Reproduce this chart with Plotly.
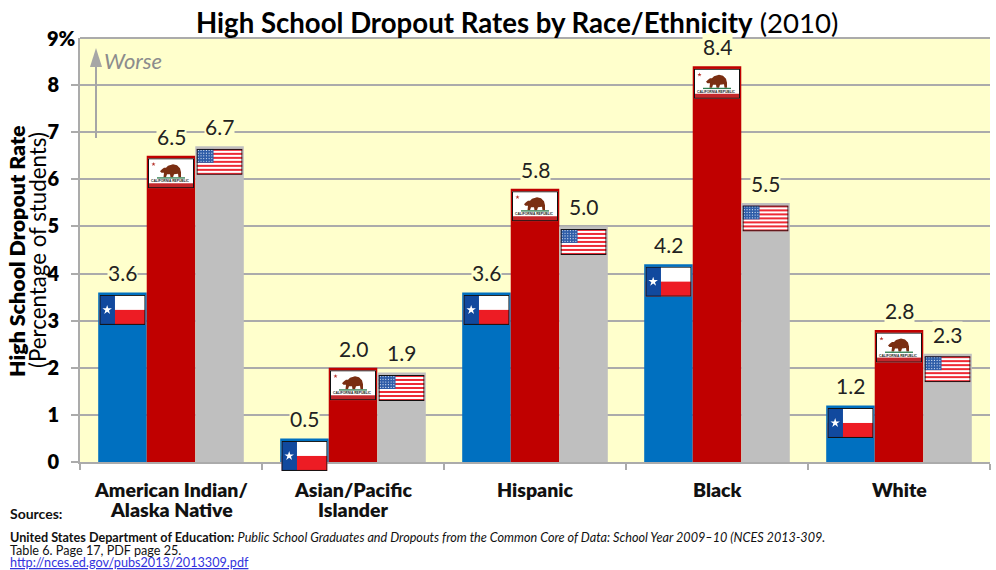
import base64
import plotly.graph_objects as go

categories = ['American Indian/ Alaska Native', 'Asian/Pacific Islander', 'Hispanic', 'Black', 'White']
category_lines = [['American Indian/', 'Alaska Native'], ['Asian/Pacific', 'Islander'], ['Hispanic'], ['Black'], ['White']]
texas = [3.6, 0.5, 3.6, 4.2, 1.2]
california = [6.5, 2.0, 5.8, 8.4, 2.8]
usa = [6.7, 1.9, 5.0, 5.5, 2.3]
y_ticks = [0, 1, 2, 3, 4, 5, 6, 7, 8]

FONT = 'Lato, Carlito, sans-serif'
YELLOW = '#FFFFCC'
GRID = '#ABABAB'
ARROW = '#A6A6A6'
W = 996
H = 570
LEFT, RIGHT, TOP, BOTTOM = 80, 6, 38, 108


def svg_uri(body, h):
    svg = (f'<svg xmlns="http://www.w3.org/2000/svg" width="184" height="{h * 4}" viewBox="0 0 46 {h}" '
           'preserveAspectRatio="none">' + body +
           f'<rect x="0.5" y="0.5" width="45" height="{h - 1}" fill="none" stroke="#111" stroke-width="1"/></svg>')
    return 'data:image/svg+xml;base64,' + base64.b64encode(svg.encode()).decode()


def star(cx, cy, r, color):
    pts = []
    for dx, dy in [(0, -1), (.22, -.31), (.95, -.31), (.36, .12), (.59, .81), (0, .38),
                   (-.59, .81), (-.36, .12), (-.95, -.31), (-.22, -.31)]:
        pts.append(f'{cx + dx * r:.2f},{cy + dy * r:.2f}')
    return f'<polygon points="{" ".join(pts)}" fill="{color}"/>'


def texas_flag():
    return ('<rect width="46" height="30" fill="#fff"/>'
            '<rect y="15" width="46" height="15" fill="#ED1C24"/>'
            '<rect width="15.5" height="30" fill="#11499E"/>' + star(7.7, 15, 5, '#fff'))


def california_flag():
    bear = ('<path d="M12 13 L14 11 L16 9.5 L18 9.5 L20 7.5 L25 6 L29 7 L32 10 L33 14 L33 19 L30.5 19 L30 15.5 '
            'L26 16 L25 19 L22.5 19 L22 16 L19 16 L18 19 L15.5 19 L16 14.5 L13.5 14.5 Z" fill="#7A2E12"/>')
    return ('<rect width="46" height="30" fill="#fff"/>'
            '<rect y="25" width="46" height="5" fill="#C3272B"/>' +
            star(5.5, 6, 2.2, '#B5322A') + bear +
            '<rect x="9" y="19" width="28" height="1.3" fill="#2E7D4F"/>'
            '<text x="22" y="24" font-size="3.3" font-weight="bold" text-anchor="middle" '
            'font-family="Liberation Sans" fill="#222">CALIFORNIA REPUBLIC</text>')


def usa_flag():
    parts = ['<rect width="46" height="26" fill="#fff"/>']
    stripe = 26 / 13
    for i in range(0, 13, 2):
        parts.append(f'<rect y="{i * stripe:.2f}" width="46" height="{stripe:.2f}" fill="#EE2A35"/>')
    parts.append('<rect width="17" height="14" fill="#2F5DA8"/>')
    for row in range(5):
        for col in range(6):
            parts.append(f'<circle cx="{1.8 + col * 2.7:.1f}" cy="{1.6 + row * 2.7:.1f}" r="0.6" fill="#DCE6F5"/>')
    return ''.join(parts)


flags = [(texas, '#0070C0', 'Texas', texas_flag(), 30),
         (california, '#C00000', 'California', california_flag(), 30),
         (usa, '#BFBFBF', 'United States', usa_flag(), 26)]

fig = go.Figure()
for values, color, name, _, _ in flags:
    fig.add_trace(go.Bar(x=categories, y=values, name=name, marker=dict(color=color, line=dict(width=0))))

plot_w = W - LEFT - RIGHT
plot_h = H - TOP - BOTTOM
bar_w = 0.8 / 3
images = []
annotations = []
for s, (values, color, name, flag, flag_h) in enumerate(flags):
    uri = svg_uri(flag, flag_h)
    offset = (s - 1) * bar_w
    for i, v in enumerate(values):
        # paper refs so the flag of a short bar can hang below the axis
        images.append(dict(source=uri, xref='paper', yref='paper', x=(i + offset + 0.5) / 5,
                           y=(v - 2.5 / plot_h * 9) / 9, sizex=46 / plot_w, sizey=flag_h / plot_h,
                           xanchor='center', yanchor='top', sizing='stretch', layer='above'))
        annotations.append(dict(x=i + offset, y=v, xref='x', yref='y', text=f'{v:.1f}', showarrow=False,
                                yanchor='bottom', yshift=6, bgcolor=YELLOW, borderpad=0,
                                font=dict(family=FONT, size=21, color='#222')))

# category labels are annotations because tick labels can't take the tighter line spacing
for i, lines in enumerate(category_lines):
    for n, line in enumerate(lines):
        annotations.append(dict(x=i, y=0, xref='x', yref='paper', text=line, showarrow=False,
                                yanchor='middle', yshift=-27 - n * 20,
                                font=dict(family=FONT, size=19.5, color='#111', weight=800)))


def paper(text, px, py, xanchor='left', yanchor='middle', **kw):
    annotations.append(dict(text=text, xref='paper', yref='paper', showarrow=False,
                            x=(px - LEFT) / plot_w, y=(H - BOTTOM - py) / plot_h,
                            xanchor=xanchor, yanchor=yanchor, align='left', **kw))


def px_x(px):
    return (px - LEFT) / plot_w


def px_y(py):
    return (H - BOTTOM - py) / plot_h


paper('<b>High School Dropout Rates by Race/Ethnicity</b> (2010)', 517, 22, xanchor='center',
      font=dict(family=FONT, size=27.6, color='#000'))
paper('9%', 78, 38, xanchor='right', font=dict(family=FONT, size=20, color='#000', weight=800))
paper('High School Dropout Rate', 17, 251, xanchor='center', textangle=-90,
      font=dict(family=FONT, size=21.4, color='#000', weight=800))
paper('(Percentage of students)', 37, 250, xanchor='center', textangle=-90,
      font=dict(family=FONT, size=22.3, color='#000'))
paper('<i>Worse</i>', 102, 60, font=dict(family=FONT, size=22, color='#8C8C8C'))
paper('<b>Sources:</b>', 8, 513, font=dict(family=FONT, size=14, color='#111'))
paper('<b>United States Department of Education:</b> <i>Public School Graduates and Dropouts from the '
      'Common Core of Data: School Year 2009–10 (NCES 2013-309.</i>', 8, 537,
      font=dict(family=FONT, size=12.65, color='#111'))
paper('Table 6. Page 17, PDF page 25.', 8, 550, font=dict(family=FONT, size=12.65, color='#111'))
paper('<a href="http://nces.ed.gov/pubs2013/2013309.pdf"><span style="color:#3333DD"><u>'
      'http://nces.ed.gov/pubs2013/2013309.pdf</u></span></a>', 8, 562,
      font=dict(family=FONT, size=12.65, color='#3333DD'))

# "Worse" arrow
shapes = [
    dict(type='line', xref='paper', yref='paper', x0=px_x(96), x1=px_x(96), y0=px_y(138), y1=px_y(66),
         line=dict(color=ARROW, width=2)),
    dict(type='path', xref='paper', yref='paper', fillcolor=ARROW, line=dict(width=0),
         path=f'M {px_x(90)} {px_y(67)} L {px_x(102)} {px_y(67)} L {px_x(96)} {px_y(48)} Z'),
    dict(type='line', xref='paper', yref='paper', x0=0, x1=1, y0=1, y1=1, layer='below',
         line=dict(color=GRID, width=2)),
]

fig.update_layout(
    width=W, height=H,
    margin=dict(l=LEFT, r=RIGHT, t=TOP, b=BOTTOM, autoexpand=False),
    paper_bgcolor='white', plot_bgcolor=YELLOW,
    barmode='group', bargap=0.2, bargroupgap=0,
    showlegend=False,
    annotations=annotations, images=images, shapes=shapes,
    xaxis=dict(type='category', tickson='boundaries', ticks='outside', ticklen=6, tickcolor=GRID, tickwidth=2,
               showline=True, linecolor=GRID, linewidth=2, showgrid=False, showticklabels=False,
               range=[-0.5, 4.5]),
    yaxis=dict(range=[0, 9], tickvals=y_ticks, ticks='outside', ticklen=7, tickcolor=GRID, tickwidth=2,
               showline=True, linecolor=GRID, linewidth=2, showgrid=True, gridcolor=GRID, gridwidth=2,
               zeroline=False, ticklabelstandoff=8,
               tickfont=dict(family=FONT, size=20, color='#000', weight=800)),
)

# the page's default body margin would push the figure off by 8px
fig.write_html("out.html", config=dict(displayModeBar=False), post_script="document.body.style.margin='0';")
